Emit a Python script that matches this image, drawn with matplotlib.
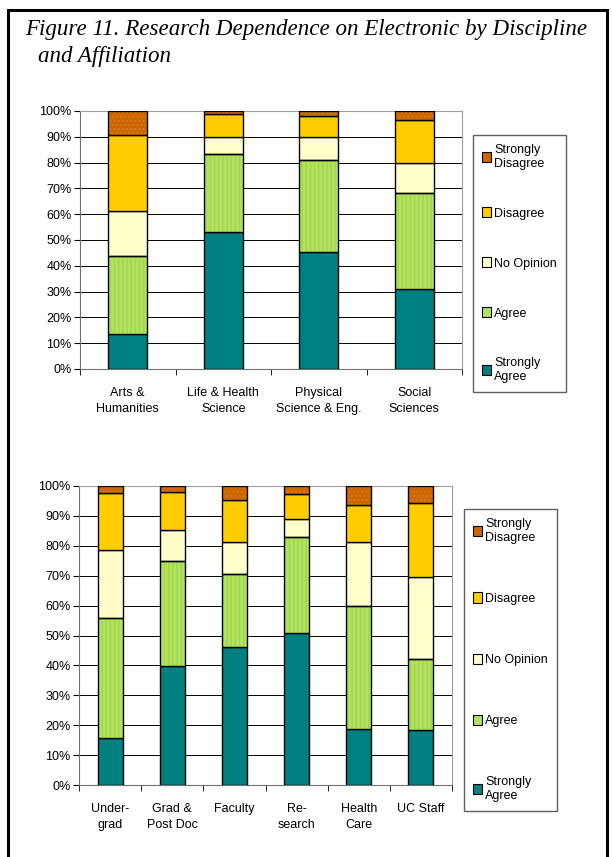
import numpy as np
import matplotlib
matplotlib.use('Agg')
import matplotlib.pyplot as plt
from matplotlib.lines import Line2D
from matplotlib.patches import Patch

plt.rcParams['font.family'] = ['Liberation Sans', 'DejaVu Sans']

# response categories, bottom to top of each stack
responses = ['Strongly\nAgree', 'Agree', 'No Opinion', 'Disagree', 'Strongly\nDisagree']
colors = ['#008080', '#b2e35e', '#ffffcc', '#ffcc00', '#cc6600']
hatch_colors = [None, '#a2d64c', None, None, '#d97a1a']

# discipline chart (percent)
disciplines = ['Arts &\nHumanities', 'Life & Health\nScience', 'Physical\nScience & Eng.', 'Social\nSciences']
disc_strongly_agree = [13.5, 53.2, 45.5, 31.1]
disc_agree = [30.4, 30.3, 35.4, 37.2]
disc_no_opinion = [17.4, 6.5, 9.1, 11.7]
disc_disagree = [29.3, 8.7, 8.2, 16.4]
disc_strongly_disagree = [9.4, 1.3, 1.8, 3.6]

# affiliation chart (percent)
affiliations = ['Under-\ngrad', 'Grad &\nPost Doc', 'Faculty', 'Re-\nsearch', 'Health\nCare', 'UC Staff']
aff_strongly_agree = [15.7, 39.8, 46.0, 50.7, 18.8, 18.3]
aff_agree = [40.3, 35.0, 24.7, 32.2, 40.9, 23.7]
aff_no_opinion = [22.5, 10.6, 10.5, 6.2, 21.5, 27.5]
aff_disagree = [19.3, 12.5, 14.1, 8.3, 12.6, 24.8]
aff_strongly_disagree = [2.2, 2.1, 4.7, 2.6, 6.2, 5.7]

tick_labels = ['0%', '10%', '20%', '30%', '40%', '50%', '60%', '70%', '80%', '90%', '100%']


def stacked_chart(ax, cats, series, bar_width):
    x = np.arange(len(cats))
    bottom = np.zeros(len(cats))
    for vals, col, hcol in zip(series, colors, hatch_colors):
        vals = np.array(vals)
        if hcol is not None:
            # light texture inside the bar
            ax.bar(x, vals, bar_width, bottom=bottom, color=col, edgecolor=hcol,
                   hatch='||||' if col == '#b2e35e' else '....', linewidth=0, zorder=3)
            ax.bar(x, vals, bar_width, bottom=bottom, color='none',
                   edgecolor='black', linewidth=1, zorder=4)
        else:
            ax.bar(x, vals, bar_width, bottom=bottom, color=col,
                   edgecolor='black', linewidth=1, zorder=3)
        bottom += vals

    ax.set_xlim(-0.5, len(cats) - 0.5)
    ax.set_ylim(0, 100)
    ax.set_yticks(np.arange(0, 101, 10))
    ax.set_yticklabels(tick_labels, fontsize=9)
    ax.yaxis.grid(True, color='black', linewidth=0.7, zorder=0)
    ax.set_axisbelow(True)

    # category labels centred, ticks between categories
    ax.set_xticks(x)
    ax.set_xticklabels(cats, fontsize=9, linespacing=1.45)
    ax.tick_params(axis='x', length=0, pad=13)
    ax.set_xticks(np.arange(-0.5, len(cats)), minor=True)
    ax.tick_params(axis='x', which='minor', length=4, direction='out', color='black')
    ax.tick_params(axis='y', length=4, direction='out', color='black', pad=2)

    for side in ['top', 'right']:
        ax.spines[side].set_color('#a0a0a0')
    ax.spines['left'].set_color('#707070')
    ax.spines['bottom'].set_color('#707070')


def add_legend(ax, anchor, spacing):
    handles = [Patch(facecolor=c, edgecolor='black', linewidth=0.8) for c in colors][::-1]
    leg = ax.legend(handles, responses[::-1], loc='upper left', bbox_to_anchor=anchor,
                    bbox_transform=ax.figure.transFigure, fontsize=9,
                    handlelength=0.7, handleheight=0.9, handletextpad=0.3,
                    labelspacing=spacing, borderpad=0.7, borderaxespad=0,
                    fancybox=False, framealpha=1, edgecolor='#606060')
    leg.get_frame().set_linewidth(1)


fig = plt.figure(figsize=(6.12, 8.57), dpi=100)

fig.text(25 / 612, 1 - 35 / 857, 'Figure 11. Research Dependence on Electronic by Discipline',
         family='Liberation Serif', style='italic', fontsize=16.6, va='baseline')
fig.text(38 / 612, 1 - 62 / 857, 'and Affiliation',
         family='Liberation Serif', style='italic', fontsize=16.6, va='baseline')

# page frame
fig.add_artist(Line2D([8 / 612, 8 / 612], [0, 1 - 10 / 857], color='black', linewidth=2.2))
fig.add_artist(Line2D([8 / 612, 607 / 612], [1 - 10 / 857, 1 - 10 / 857], color='black', linewidth=2.2))
fig.add_artist(Line2D([607 / 612, 607 / 612], [0, 1 - 10 / 857], color='black', linewidth=2.2))

ax1 = fig.add_axes([80 / 612, 1 - 369 / 857, 382 / 612, 258 / 857])
stacked_chart(ax1, disciplines,
              [disc_strongly_agree, disc_agree, disc_no_opinion, disc_disagree, disc_strongly_disagree],
              0.41)
add_legend(ax1, (473 / 612, 1 - 135 / 857), 3.0)

ax2 = fig.add_axes([79 / 612, 1 - 785 / 857, 373 / 612, 299 / 857])
stacked_chart(ax2, affiliations,
              [aff_strongly_agree, aff_agree, aff_no_opinion, aff_disagree, aff_strongly_disagree],
              0.40)
add_legend(ax2, (464 / 612, 1 - 509 / 857), 3.9)

fig.savefig('out.png', dpi=100)
